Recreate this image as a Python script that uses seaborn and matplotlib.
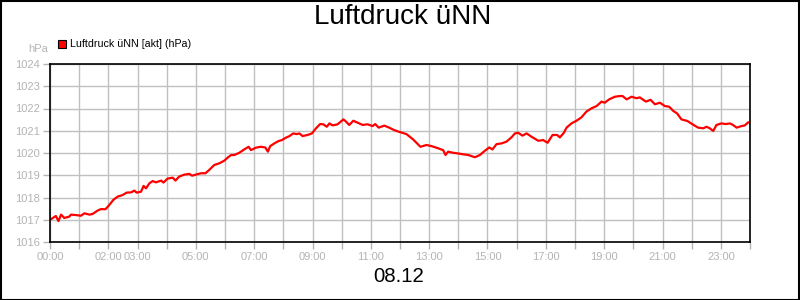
import matplotlib
matplotlib.use("Agg")
import matplotlib.pyplot as plt
import seaborn as sns
import pandas as pd
from matplotlib.patches import Rectangle

hours = [0.03, 0.2, 0.29, 0.38, 0.49, 0.66, 0.72, 0.89, 1.06, 1.18, 1.35, 1.46, 1.63, 1.75, 1.9,
         2.03, 2.17, 2.32, 2.49, 2.63, 2.78, 2.89, 2.97, 3.12, 3.21, 3.29, 3.41, 3.52, 3.63, 3.81,
         3.89, 4.03, 4.21, 4.3, 4.43, 4.61, 4.78, 4.87, 5.0, 5.18, 5.33, 5.46, 5.63, 5.81, 5.98,
         6.09, 6.21, 6.32, 6.49, 6.66, 6.81, 6.89, 7.06, 7.23, 7.38, 7.47, 7.55, 7.69, 7.84, 7.95,
         8.09, 8.21, 8.34, 8.46, 8.55, 8.66, 8.83, 8.98, 9.12, 9.26, 9.37, 9.49, 9.58, 9.69, 9.86,
         10.06, 10.15, 10.26, 10.4, 10.55, 10.72, 10.89, 11.06, 11.15, 11.27, 11.46, 11.63, 11.8, 11.95,
         12.22, 12.45, 12.7, 12.91, 13.08, 13.31, 13.48, 13.56, 13.65, 13.82, 13.99, 14.17, 14.34,
         14.57, 14.74, 14.91, 15.06, 15.17, 15.31, 15.48, 15.65, 15.82, 15.94, 16.05, 16.2, 16.34,
         16.51, 16.74, 16.91, 17.06, 17.23, 17.39, 17.48, 17.62, 17.71, 17.88, 18.05, 18.22, 18.39,
         18.57, 18.74, 18.91, 19.02, 19.17, 19.37, 19.54, 19.63, 19.77, 19.94, 20.11, 20.22, 20.43,
         20.59, 20.74, 20.91, 21.08, 21.23, 21.37, 21.5, 21.65, 21.85, 22.03, 22.22, 22.4, 22.51,
         22.62, 22.74, 22.85, 23.02, 23.17, 23.31, 23.42, 23.54, 23.71, 23.82, 23.94, 24.0]
pressure = [1017.02, 1017.17, 1016.94, 1017.23, 1017.08, 1017.14, 1017.23, 1017.21, 1017.18, 1017.29,
            1017.23, 1017.26, 1017.41, 1017.48, 1017.47, 1017.66, 1017.89, 1018.04, 1018.11, 1018.22,
            1018.23, 1018.31, 1018.22, 1018.26, 1018.52, 1018.41, 1018.64, 1018.74, 1018.68, 1018.76,
            1018.67, 1018.85, 1018.89, 1018.76, 1018.94, 1019.03, 1019.06, 1018.98, 1019.03, 1019.09,
            1019.09, 1019.24, 1019.46, 1019.54, 1019.66, 1019.79, 1019.91, 1019.91, 1020.01, 1020.16,
            1020.28, 1020.13, 1020.24, 1020.28, 1020.25, 1020.06, 1020.31, 1020.43, 1020.54, 1020.58,
            1020.69, 1020.76, 1020.88, 1020.85, 1020.88, 1020.76, 1020.81, 1020.88, 1021.11, 1021.30,
            1021.29, 1021.18, 1021.33, 1021.24, 1021.29, 1021.51, 1021.41, 1021.26, 1021.45, 1021.36,
            1021.26, 1021.29, 1021.21, 1021.30, 1021.14, 1021.23, 1021.14, 1021.03, 1020.96,
            1020.85, 1020.61, 1020.28, 1020.36, 1020.31, 1020.21, 1020.13, 1019.91, 1020.06, 1020.01,
            1019.98, 1019.94, 1019.91, 1019.81, 1019.91, 1020.10, 1020.25, 1020.16, 1020.40, 1020.43,
            1020.51, 1020.70, 1020.88, 1020.91, 1020.78, 1020.88, 1020.73, 1020.55, 1020.58, 1020.46,
            1020.81, 1020.81, 1020.70, 1020.91, 1021.14, 1021.33, 1021.45, 1021.60, 1021.86, 1022.01,
            1022.11, 1022.31, 1022.26, 1022.41, 1022.53, 1022.56, 1022.56, 1022.41, 1022.53, 1022.46,
            1022.50, 1022.31, 1022.39, 1022.19, 1022.26, 1022.11, 1022.08, 1021.89, 1021.78, 1021.51,
            1021.44, 1021.29, 1021.14, 1021.11, 1021.18, 1021.11, 1020.99, 1021.26, 1021.33, 1021.30,
            1021.33, 1021.26, 1021.14, 1021.21, 1021.24, 1021.38, 1021.36]

tick_hours = list(range(25))
tick_labels = ["00:00", "", "02:00", "03:00", "", "05:00", "", "07:00", "", "09:00", "", "11:00", "",
               "13:00", "", "15:00", "", "17:00", "", "19:00", "", "21:00", "", "23:00", ""]
y_ticks = [1016, 1017, 1018, 1019, 1020, 1021, 1022, 1023, 1024]

title = "Luftdruck üNN"
series_name = "Luftdruck üNN [akt] (hPa)"
unit = "hPa"
date_label = "08.12"

sns.set_style("white")
plt.rcParams['font.family'] = ['Liberation Sans', 'DejaVu Sans']

grey = "#b4b4b4"
df = pd.DataFrame({"hour": hours, "p": pressure})

fig = plt.figure(figsize=(8, 3), dpi=100)
ax = fig.add_axes([50 / 800, 1 - 242 / 300, 700 / 800, 178 / 300])
sns.lineplot(data=df, x="hour", y="p", ax=ax, color="#ff0000", linewidth=1.6)

ax.set_xlim(0, 24)
ax.set_ylim(1016, 1024)
ax.set_xticks(tick_hours)
ax.set_xticklabels(tick_labels)
ax.set_yticks(y_ticks)
ax.set_yticklabels([str(v) for v in y_ticks])
ax.set_xlabel("")
ax.set_ylabel("")
ax.grid(True, color="#c0c0c0", linewidth=1)
ax.set_axisbelow(True)
ax.tick_params(axis="both", which="both", length=5, width=1, color=grey,
               labelcolor=grey, labelsize=8, direction="out", pad=2, left=True, bottom=True)
for s in ax.spines.values():
    s.set_color("black")
    s.set_linewidth(1.2)
    s.set_visible(True)

fig.text(403 / 800, 1 - 17.5 / 300, title, ha="center", va="center", fontsize=20, color="black")
fig.text(399 / 800, 1 - 276.5 / 300, date_label, ha="center", va="center", fontsize=14.7, color="black")
fig.text(48 / 800, 1 - 49 / 300, unit, ha="right", va="center", fontsize=8, color=grey)
fig.patches.append(Rectangle((58 / 800, 1 - 48 / 300), 8 / 800, 8 / 300, transform=fig.transFigure,
                             facecolor="#ff0000", edgecolor="black", linewidth=0.8))
fig.text(70 / 800, 1 - 44 / 300, series_name, ha="left", va="center", fontsize=7.7, color="black")

fig.patches.append(Rectangle((0.5 / 800, 0.5 / 300), 798.5 / 800, 298.5 / 300, transform=fig.transFigure,
                             facecolor="none", edgecolor="black", linewidth=1.5))

fig.savefig("out.png", dpi=100)
